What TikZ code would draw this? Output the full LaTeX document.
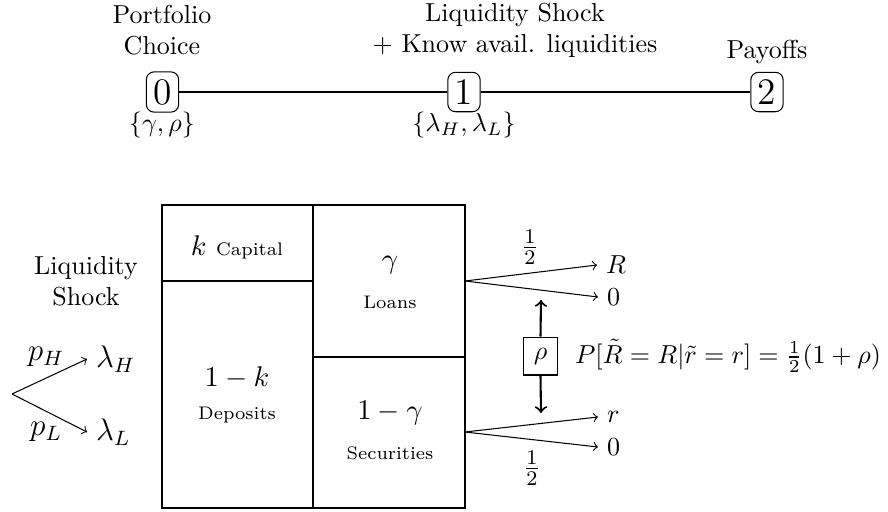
\documentclass[tikz,border=0pt]{standalone}
\begin{document}
\begin{tikzpicture}[x=0.3846pt,y=-0.3846pt,
  tbox/.style={draw, rounded corners=3pt, font=\Large, inner xsep=2.7pt, inner ysep=2.8pt},
  lbl/.style={align=center},
  bigm/.style={font=\fontsize{12}{14}\selectfont},
  midm/.style={font=\fontsize{11.2}{13}\selectfont},
  smm/.style={font=\fontsize{10.2}{12}\selectfont},
  small/.style={font=\scriptsize},
  tip/.style={->},
  rarr/.style={thick,->}]
\useasboundingbox (0,0) rectangle (888,512);
% timeline
\node[tbox] (t0) at (162.5,92) {0};
\node[tbox] (t1) at (464,92) {1};
\node[tbox] (t2) at (767,92) {2};
\draw (t0) -- (t1) -- (t2);
\node[lbl] (l0) at (162,30) {Portfolio\\Choice};
\node[lbl] (l1) at (515,30) {Liquidity Shock\\+ Know avail. liquidities};
\node (l2) at (767,52) {Payoffs};
\node (b0) at (162,125) {$\{\gamma,\rho\}$};
\node (b1) at (464,125) {$\{\lambda_H,\lambda_L\}$};
% balance sheet
\coordinate (bl) at (162,205);
\coordinate (br) at (465,508);
\draw (bl) rectangle (br);
\draw (313,205) -- (313,508);
\draw (162,281) -- (313,281);
\draw (313,357) -- (465,357);
\node[midm] (k) at (237,247) {$k$ {\scriptsize Capital}};
\node[midm] (omk) at (237,378) {$1-k$};
\node[small] (dep) at (237,415) {Deposits};
\node[midm] (g) at (390,265) {$\gamma$};
\node[small] (loans) at (390,302) {Loans};
\node[midm] (omg) at (390,413) {$1-\gamma$};
\node[small] (sec) at (390,453) {Securities};
% payoffs
\coordinate (lo) at (465,281);
\coordinate (so) at (465,432);
\node[smm,anchor=west] (R) at (597,265) {$R$};
\node[smm,anchor=west] (z1) at (598,297) {$0$};
\node[smm,anchor=west] (r) at (598,417) {$r$};
\node[smm,anchor=west] (z2) at (598,447) {$0$};
\draw[tip] (lo) -- (R.west);
\draw[tip] (lo) -- (z1.west);
\draw[tip] (so) -- (r.west);
\draw[tip] (so) -- (z2.west);
\node[midm] (h1) at (530,247) {$\frac12$};
\node[midm] (h2) at (532,468) {$\frac12$};
% correlation
\node[draw, smm, minimum width=13.4pt, minimum height=14.6pt, inner sep=1pt] (rho) at (540.5,356) {$\rho$};
\coordinate (up) at (541,300);
\coordinate (dn) at (541,413);
\draw[rarr] (rho.north) -- (up);
\draw[rarr] (rho.south) -- (dn);
\node[smm,anchor=west] (f) at (566,356) {$P[\tilde R = R|\tilde r = r] = \frac12(1+\rho)$};
% liquidity shock
\node[lbl] (ls) at (86,281) {Liquidity\\Shock};
\coordinate (br0) at (12,394);
\node[bigm,anchor=west] (lH) at (87,359) {$\lambda_H$};
\node[bigm,anchor=west] (lL) at (87,432) {$\lambda_L$};
\draw[tip] (br0) -- (lH.west);
\draw[tip] (br0) -- (lL.west);
\node[bigm] (pH) at (46,357) {$p_H$};
\node[bigm] (pL) at (46,432) {$p_L$};
\end{tikzpicture}
\end{document}
